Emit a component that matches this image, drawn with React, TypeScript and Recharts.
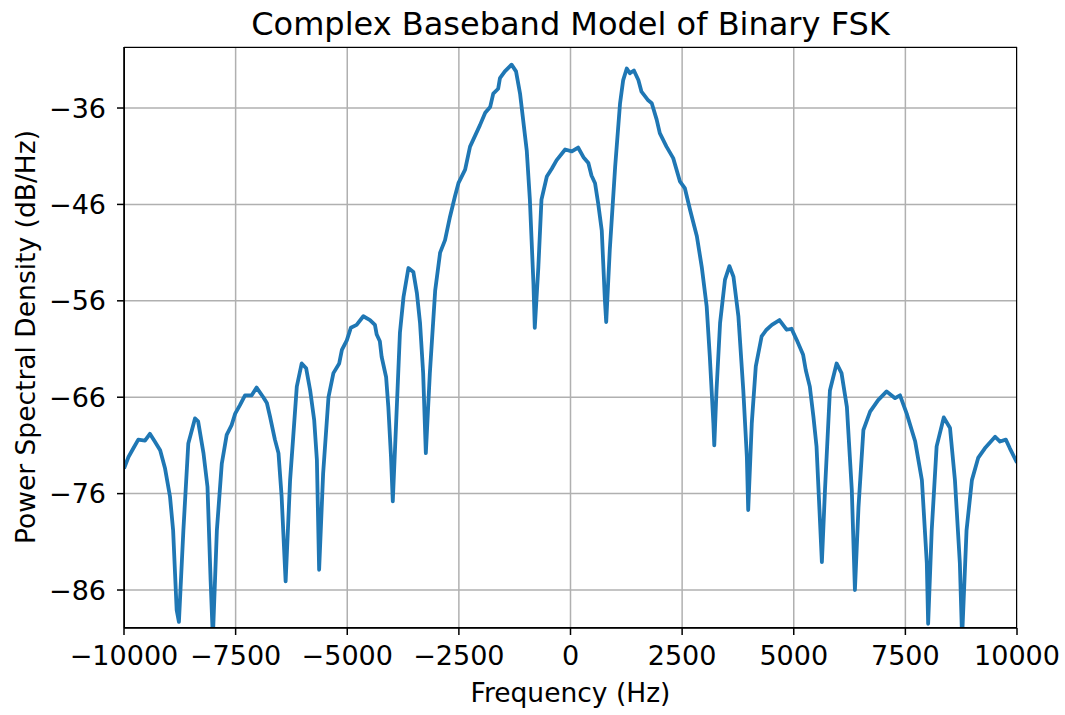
import React from 'react';
import { LineChart, Line, XAxis, YAxis, CartesianGrid } from 'recharts';

// frequency (Hz) and PSD (dB/Hz)
const freqs = [
  -10000, -9900, -9790, -9680, -9530, -9420, -9310, -9190, -9080, -8970,
  -8900, -8820, -8770, -8670, -8560, -8410, -8340, -8220, -8130, -8060,
  -8010, -7920, -7810, -7700, -7590, -7510, -7400, -7290, -7140, -7030,
  -6880, -6800, -6730, -6620, -6540, -6470, -6380, -6280, -6210, -6130,
  -6020, -5920, -5830, -5740, -5680, -5630, -5540, -5420, -5310, -5180,
  -5120, -5010, -4920, -4790, -4640, -4490, -4380, -4340, -4270, -4230,
  -4130, -4080, -4020, -3980, -3890, -3820, -3740, -3630, -3520, -3440,
  -3370, -3300, -3240, -3150, -3030, -2920, -2810, -2700, -2590, -2510,
  -2360, -2250, -2180, -2030, -1910, -1800, -1730, -1620, -1580, -1470,
  -1320, -1220, -1130, -980, -910, -830, -800, -720, -650, -530,
  -420, -310, -120, 30, 170, 290, 400, 470, 550, 620,
  700, 770, 800, 880, 1000, 1110, 1180, 1260, 1330, 1420,
  1520, 1590, 1740, 1820, 1930, 2000, 2150, 2300, 2450, 2560,
  2680, 2830, 2940, 3050, 3120, 3200, 3220, 3270, 3350, 3460,
  3560, 3650, 3760, 3870, 3950, 3980, 4060, 4150, 4280, 4390,
  4510, 4680, 4840, 4950, 5070, 5210, 5270, 5360, 5440, 5510,
  5590, 5630, 5700, 5810, 5960, 6070, 6190, 6300, 6370, 6450,
  6560, 6710, 6890, 7080, 7270, 7380, 7530, 7720, 7870, 7980,
  8010, 8090, 8200, 8360, 8500, 8610, 8720, 8770, 8870, 8990,
  9130, 9280, 9510, 9620, 9750, 9840, 10000,
];

const psd = [
  -73.4, -72.2, -71.3, -70.4, -70.5, -69.8, -70.6, -71.5, -73.4, -76.3,
  -79.8, -88.1, -89.3, -79.8, -70.8, -68.2, -68.5, -71.8, -75.3, -85.0,
  -91.0, -79.8, -72.9, -69.9, -68.9, -67.7, -66.8, -65.8, -65.8, -65.0,
  -66.0, -66.6, -68.0, -70.4, -71.8, -76.3, -85.1, -74.6, -70.1, -64.9,
  -62.5, -63.0, -65.3, -68.4, -72.5, -83.9, -73.9, -66.0, -63.5, -62.5,
  -61.1, -60.1, -58.8, -58.5, -57.6, -58.0, -58.5, -59.5, -60.2, -61.8,
  -63.9, -67.0, -72.2, -76.8, -67.0, -59.3, -55.6, -52.6, -53.0, -55.2,
  -58.3, -63.5, -71.8, -63.5, -54.9, -51.0, -49.7, -47.3, -45.2, -43.8,
  -42.4, -40.0, -39.3, -37.8, -36.5, -35.9, -34.5, -34.0, -32.9, -32.2,
  -31.5, -32.2, -34.5, -40.4, -45.5, -54.2, -58.8, -52.5, -45.5, -43.1,
  -42.3, -41.4, -40.3, -40.5, -40.1, -41.1, -41.7, -43.0, -43.8, -45.9,
  -48.7, -55.9, -58.2, -50.7, -42.1, -35.5, -33.1, -31.9, -32.4, -32.1,
  -33.1, -34.3, -35.2, -35.5, -37.2, -38.6, -40.0, -41.2, -43.6, -44.3,
  -46.6, -49.3, -52.5, -56.6, -61.8, -68.7, -71.0, -65.3, -58.3, -53.8,
  -52.4, -53.5, -57.6, -65.3, -72.2, -77.7, -68.7, -62.8, -59.7, -59.0,
  -58.5, -58.0, -59.0, -58.9, -60.1, -61.6, -63.2, -64.9, -68.0, -71.1,
  -79.1, -83.1, -75.6, -65.3, -62.5, -63.5, -67.0, -75.6, -86.0, -77.4,
  -69.4, -67.5, -66.3, -65.4, -66.1, -65.8, -67.7, -70.6, -74.6, -83.2,
  -89.5, -79.8, -71.1, -68.1, -69.2, -74.6, -83.2, -91.0, -79.8, -74.6,
  -72.3, -71.3, -70.1, -70.6, -70.4, -71.3, -72.8,
];

const xTicks = [-10000, -7500, -5000, -2500, 0, 2500, 5000, 7500, 10000];
const yTicks = [-86, -76, -66, -56, -46, -36];

const data = freqs.map((f, i) => ({ f, psd: psd[i] }));

const fmt = (v: number) => (v < 0 ? `\u2212${-v}` : `${v}`);
const font = '"DejaVu Sans", sans-serif';

export default function App() {
  return (
    <div style={{ position: 'absolute', left: 0, top: 0, width: 1065, height: 715, background: '#fff', fontFamily: font }}>
      <div style={{ position: 'absolute', left: 0, width: 1141, top: 8, textAlign: 'center', fontSize: 32, lineHeight: '32px', color: '#000' }}>
        Complex Baseband Model of Binary FSK
      </div>

      <LineChart width={1065} height={715} data={data} margin={{ top: 47, right: 48, left: 0, bottom: 0 }}>
        <CartesianGrid stroke="#b0b0b0" strokeWidth={1.5} />
        <XAxis
          dataKey="f"
          type="number"
          domain={[-10000, 10000]}
          ticks={xTicks}
          allowDataOverflow
          height={87}
          tickFormatter={fmt}
          stroke="#000"
          strokeWidth={1.5}
          tickSize={7}
          tickMargin={11}
          tick={{ fill: '#000', fontSize: 27, fontFamily: font }}
        />
        <YAxis
          type="number"
          domain={[-89.94, -29.67]}
          ticks={yTicks}
          allowDataOverflow
          width={124}
          tickFormatter={fmt}
          stroke="#000"
          strokeWidth={1.5}
          tickSize={7}
          tickMargin={11}
          tick={{ fill: '#000', fontSize: 27, fontFamily: font }}
        />
        <Line
          type="linear"
          dataKey="psd"
          stroke="#1f77b4"
          strokeWidth={3.8}
          strokeLinejoin="round"
          dot={false}
          isAnimationActive={false}
        />
      </LineChart>

      <div style={{ position: 'absolute', left: 124, top: 47, width: 893, height: 581, boxSizing: 'border-box', border: '1.5px solid #000', pointerEvents: 'none' }} />

      <div style={{ position: 'absolute', left: 0, width: 1141, top: 679, textAlign: 'center', fontSize: 26.5, lineHeight: '27px', color: '#000' }}>
        Frequency (Hz)
      </div>
      <div
        style={{
          position: 'absolute',
          left: 25,
          top: 337,
          transform: 'translate(-50%, -50%) rotate(-90deg)',
          whiteSpace: 'nowrap',
          fontSize: 26.5,
          lineHeight: '27px',
          color: '#000',
        }}
      >
        Power Spectral Density (dB/Hz)
      </div>
    </div>
  );
}
